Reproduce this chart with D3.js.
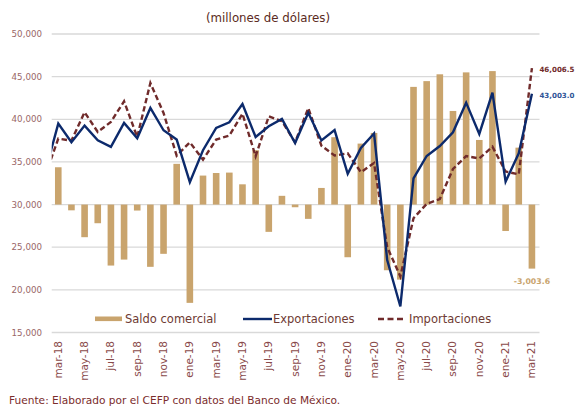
<!DOCTYPE html>
<html>
<head>
<meta charset="utf-8">
<title>Balanza comercial</title>
<script src="https://d3js.org/d3.v7.min.js"></script>
<style>
  body { margin: 0; background: #ffffff; }
  svg { display: block; font-family: "DejaVu Sans", sans-serif; }
</style>
</head>
<body>
<svg id="chart" width="576" height="407"></svg>
<script>
// meses (feb-18 solo sirve para el tramo inicial de las líneas, queda recortado)
var meses = ["feb-18","mar-18","abr-18","may-18","jun-18","jul-18","ago-18","sep-18","oct-18","nov-18","dic-18",
  "ene-19","feb-19","mar-19","abr-19","may-19","jun-19","jul-19","ago-19","sep-19","oct-19","nov-19","dic-19",
  "ene-20","feb-20","mar-20","abr-20","may-20","jun-20","jul-20","ago-20","sep-20","oct-20","nov-20","dic-20",
  "ene-21","feb-21","mar-21"];

var exportaciones = [33800, 39490, 37300, 39260, 37540, 36760, 39570, 37770, 41330, 38710, 37620,
  32620, 36370, 38980, 39650, 41800, 37930, 39180, 40040, 37210, 40760, 37520, 38730,
  33610, 36650, 38340, 23500, 18050, 33080, 35700, 36870, 38480, 41950, 38280, 43120,
  32690, 36010, 43003.0];

var importaciones = [33400, 37730, 37500, 40820, 38520, 39690, 42110, 37930, 44260, 40740, 35740,
  37300, 35270, 37620, 38090, 40660, 35660, 40350, 39770, 37300, 41310, 36910, 35750,
  36000, 33800, 34860, 25000, 21570, 28400, 30080, 30650, 34170, 35680, 35410, 36780,
  33880, 33540, 46006.5];

var saldo = [null, 1750, -270, -1530, -875, -2860, -2580, -280, -2920, -2310, 1910,
  -4610, 1360, 1480, 1500, 950, 2550, -1280, 410, -125, -670, 780, 3160,
  -2470, 2860, 3360, -3080, -3520, 5520, 5790, 6110, 4390, 6200, 3030, 6260,
  -1240, 2670, -3003.6];

var yTicks = [15000, 20000, 25000, 30000, 35000, 40000, 45000, 50000];

var svg = d3.select("#chart");
var pLeft = 51.7, pRight = 538.5, pTop = 34, pBottom = 332.5;
var step = (pRight - pLeft) / (meses.length - 1);

var x = d3.scaleBand().domain(meses).range([pLeft - step, pRight]).padding(0);
var bw = x.bandwidth();
var y = d3.scaleLinear().domain([15000, 50000]).range([pBottom, pTop]);
var y2 = d3.scaleLinear().domain([-6000, 8000]).range([pBottom, pTop]);

var cx = function(m) { return x(m) + bw / 2; };

svg.append("defs").append("clipPath").attr("id", "plot")
  .append("rect").attr("x", pLeft).attr("y", 0).attr("width", pRight - pLeft).attr("height", 407);

// titulo
svg.append("text").attr("x", 268).attr("y", 22).attr("text-anchor", "middle")
  .attr("fill", "#5b2b22").style("font-size", "11.8px").text("(millones de dólares)");

// rejilla
svg.append("g").selectAll("line").data(yTicks).enter().append("line")
  .attr("x1", pLeft).attr("x2", pRight + 1)
  .attr("y1", function(d) { return y(d); }).attr("y2", function(d) { return y(d); })
  .attr("stroke", "#d9d9d9").attr("stroke-width", 1.3);

svg.append("g").selectAll("text").data(yTicks).enter().append("text")
  .attr("x", 42).attr("y", function(d) { return y(d) + 3; })
  .attr("text-anchor", "end").attr("fill", "#9a6767").style("font-size", "8.7px")
  .text(function(d) { return d3.format(",")(d); });

// etiquetas del eje x, cada dos meses
var etiquetas = meses.filter(function(m, i) { return i % 2 == 1; });
svg.append("g").selectAll("text").data(etiquetas).enter().append("text")
  .attr("transform", function(m) { return "translate(" + (cx(m) + 3.5) + ",341) rotate(-90)"; })
  .attr("text-anchor", "end").attr("fill", "#8a4a4a").style("font-size", "10.5px")
  .text(function(m) { return m; });

var plot = svg.append("g").attr("clip-path", "url(#plot)");

// barras del saldo (eje secundario, oculto)
plot.selectAll("rect").data(meses.filter(function(m, i) { return saldo[i] != null; })).enter().append("rect")
  .attr("x", function(m) { return cx(m) - 3.3; })
  .attr("width", 6.6)
  .attr("y", function(m) { var v = saldo[meses.indexOf(m)]; return Math.min(y2(v), y2(0)); })
  .attr("height", function(m) { var v = saldo[meses.indexOf(m)]; return Math.abs(y2(v) - y2(0)); })
  .attr("fill", "#c9a46d");

var linea = d3.line().x(function(d, i) { return cx(meses[i]); }).y(function(d) { return y(d); });

plot.append("path").datum(importaciones).attr("d", linea)
  .attr("fill", "none").attr("stroke", "#702b2b").attr("stroke-width", 2.4)
  .attr("stroke-dasharray", "5.5,3");

plot.append("path").datum(exportaciones).attr("d", linea)
  .attr("fill", "none").attr("stroke", "#0c2a6c").attr("stroke-width", 2.4)
  .attr("stroke-linejoin", "miter");

// etiquetas del ultimo dato
var ult = meses[meses.length - 1], n = meses.length - 1;
svg.append("text").attr("x", cx(ult) + 7.5).attr("y", y(importaciones[n]) + 4)
  .attr("fill", "#702b2b").style("font-size", "7.1px").style("font-weight", "bold")
  .text(d3.format(",.1f")(importaciones[n]));
svg.append("text").attr("x", cx(ult) + 7.5).attr("y", y(exportaciones[n]) + 4)
  .attr("fill", "#2f5597").style("font-size", "7.1px").style("font-weight", "bold")
  .text(d3.format(",.1f")(exportaciones[n]));
svg.append("text").attr("x", cx(ult)).attr("y", y2(saldo[n]) + 15)
  .attr("text-anchor", "middle")
  .attr("fill", "#c9a46d").style("font-size", "7.8px").style("font-weight", "bold")
  .text(d3.format(",.1f")(saldo[n]).replace("−", "-"));

// leyenda
var ley = svg.append("g").style("font-size", "11.5px").attr("fill", "#6e3a33");
ley.append("rect").attr("x", 95).attr("y", 316.5).attr("width", 27).attr("height", 4.6).attr("fill", "#c9a46d");
ley.append("text").attr("x", 125).attr("y", 322.5).text("Saldo comercial");
ley.append("line").attr("x1", 243).attr("x2", 272).attr("y1", 319).attr("y2", 319)
  .attr("stroke", "#0c2a6c").attr("stroke-width", 2.4);
ley.append("text").attr("x", 273).attr("y", 322.5).text("Exportaciones");
ley.append("line").attr("x1", 378).attr("x2", 405).attr("y1", 319).attr("y2", 319)
  .attr("stroke", "#702b2b").attr("stroke-width", 2.4).attr("stroke-dasharray", "6,3.5");
ley.append("text").attr("x", 409).attr("y", 322.5).text("Importaciones");

// fuente
svg.append("text").attr("x", 9).attr("y", 404).attr("fill", "#7b2c2c").style("font-size", "10.6px")
  .text("Fuente: Elaborado por el CEFP con datos del Banco de México.");
</script>
</body>
</html>
